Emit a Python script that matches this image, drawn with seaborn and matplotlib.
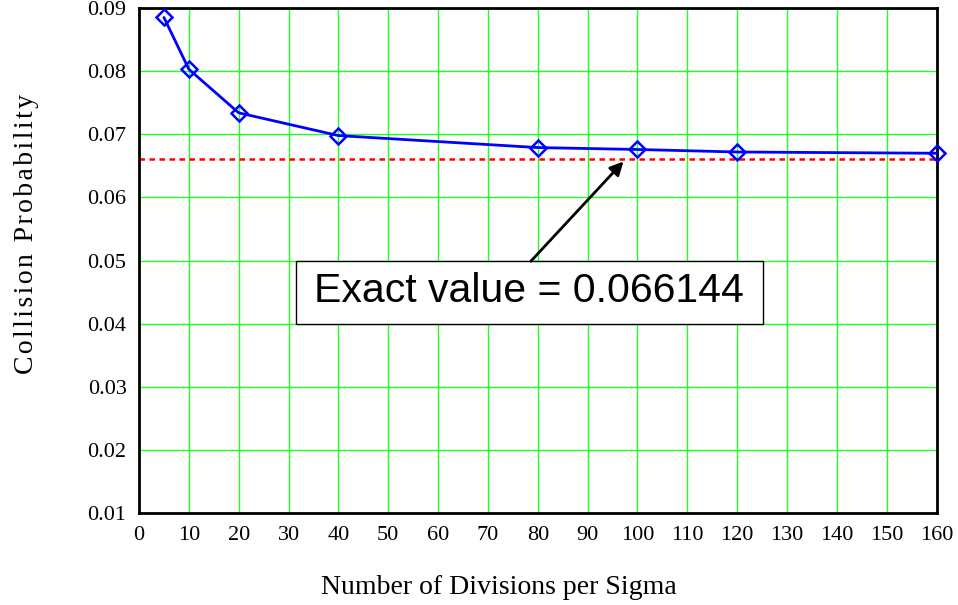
import matplotlib
matplotlib.use("Agg")
import matplotlib.pyplot as plt
from matplotlib.patches import Rectangle
import seaborn as sns
import pandas as pd

divisions = [5, 10, 20, 40, 80, 100, 120, 160]
probability = [0.0885, 0.0803, 0.0734, 0.0698, 0.0679, 0.0676, 0.0672, 0.0670]
exact_value = 0.066144
x_ticks = list(range(0, 161, 10))
y_ticks = [0.01, 0.02, 0.03, 0.04, 0.05, 0.06, 0.07, 0.08, 0.09]

sns.set_style("white")
plt.rcParams['font.family'] = ['Liberation Serif', 'DejaVu Serif']
plt.rcParams['text.color'] = 'black'
plt.rcParams['xtick.color'] = 'black'
plt.rcParams['ytick.color'] = 'black'
plt.rcParams['axes.labelcolor'] = 'black'

df = pd.DataFrame({"div": divisions, "prob": probability})

fig = plt.figure(figsize=(9.58, 6.05), dpi=100)
ax = fig.add_axes([0.1451, 0.1516, 0.8325, 0.8352])

ax.set_xlim(0, 160)
ax.set_ylim(0.01, 0.09)
ax.set_xticks(x_ticks)
ax.set_yticks(y_ticks)
ax.set_xticklabels([str(t) for t in x_ticks])
ax.set_yticklabels([f"{t:.2f}" for t in y_ticks])
ax.grid(True, color="#22ff22", linewidth=1.0)
ax.set_axisbelow(True)

ax.axhline(exact_value, color="#ff0000", linestyle=(0, (2.2, 1.8)), linewidth=1.8, zorder=2)

sns.lineplot(data=df, x="div", y="prob", ax=ax, color="#0000ff", linewidth=2,
             marker="D", markersize=8, markerfacecolor="none",
             markeredgecolor="#0000ff", markeredgewidth=1.8, zorder=3,
             clip_on=False)

for s in ax.spines.values():
    s.set_color("black")
    s.set_linewidth(2)

ax.tick_params(axis="both", length=0, labelsize=16, pad=9)
ax.set_xlabel("")
ax.set_ylabel("")

fig.text(499 / 958, 1 - 588 / 605, "Number of Divisions per Sigma",
         fontsize=20, ha="center", va="center")
fig.text(27 / 958, 1 - 234 / 605, "\u200a".join("Collision Probability"),
         fontsize=20, ha="center", va="center", rotation=90)

# annotation box
ax.add_patch(Rectangle((31.5, 0.0400), 93.6, 0.0099, facecolor="white",
                       edgecolor="black", linewidth=1, zorder=5))
ax.text(78.3, 0.0452, "Exact value = 0.066144", ha="center", va="center",
        fontsize=29.5, family=["Liberation Sans", "DejaVu Sans"], zorder=6)
ax.annotate("", xy=(97.2, 0.0657), xytext=(78.6, 0.0499),
            arrowprops=dict(arrowstyle="-|>", color="black", lw=2,
                            mutation_scale=20, shrinkA=0, shrinkB=0),
            zorder=6)

fig.savefig("out.png", dpi=100)
